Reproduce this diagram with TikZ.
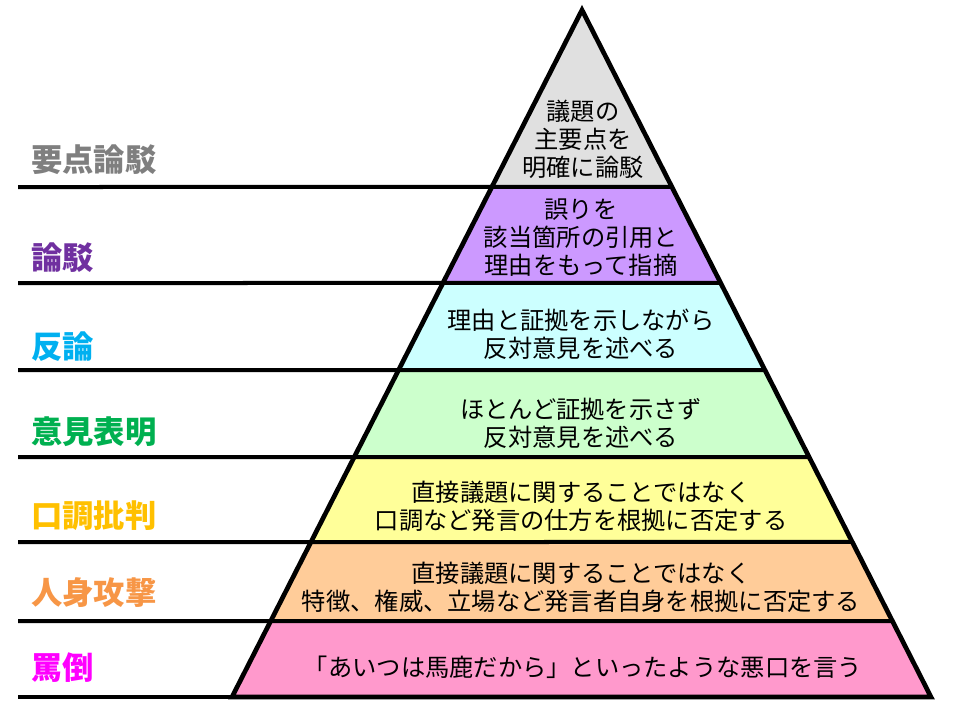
\documentclass[tikz,border=0pt]{standalone}
\usepackage{fontspec}
\newfontfamily\jp{Noto Sans CJK JP}
\usetikzlibrary{calc}
\definecolor{fgray}{HTML}{E0E0E0}
\definecolor{fpurple}{HTML}{CC99FF}
\definecolor{fcyan}{HTML}{CCFFFF}
\definecolor{fgreen}{HTML}{CCFFCC}
\definecolor{fyellow}{HTML}{FFFF99}
\definecolor{forange}{HTML}{FFCC99}
\definecolor{fpink}{HTML}{FF99CC}
\definecolor{lgray}{HTML}{7F7F7F}
\definecolor{lpurple}{HTML}{7030A0}
\definecolor{lcyan}{HTML}{00B0F0}
\definecolor{lgreen}{HTML}{00B050}
\definecolor{lyellow}{HTML}{FFC000}
\definecolor{lorange}{HTML}{F79646}
\definecolor{lpink}{HTML}{FF00FF}
\tikzset{
  lvlline/.style={line width=3pt},
  outline/.style={line width=3.5pt, line join=miter},
  ptext/.style={font=\jp\fontsize{18.2}{21}\selectfont, align=center, text=black, inner sep=0pt},
  label/.style={font=\jp\bfseries\fontsize{23.5}{26}\selectfont, anchor=west, inner sep=0pt}
}
\begin{document}
\begin{tikzpicture}[x=0.75pt,y=-0.75pt]
\useasboundingbox (0,0) rectangle (960,717);
\coordinate (A) at (582,10);
\coordinate (BL) at (232,697);
\coordinate (BR) at (931,697);
\foreach \n/\y in {1/187,2/283,3/370,4/457,5/542,6/621,7/697}{
  \coordinate (L\n) at ($(A)!{(\y-10)/687}!(BL)$);
  \coordinate (R\n) at ($(A)!{(\y-10)/687}!(BR)$);
  \coordinate (E\n) at (18,\y);
}
\fill[fgray] (A) -- (R1) -- (L1) -- cycle;
\fill[fpurple] (L1) -- (R1) -- (R2) -- (L2) -- cycle;
\fill[fcyan] (L2) -- (R2) -- (R3) -- (L3) -- cycle;
\fill[fgreen] (L3) -- (R3) -- (R4) -- (L4) -- cycle;
\fill[fyellow] (L4) -- (R4) -- (R5) -- (L5) -- cycle;
\fill[forange] (L5) -- (R5) -- (R6) -- (L6) -- cycle;
\fill[fpink] (L6) -- (R6) -- (R7) -- (L7) -- cycle;
\foreach \n in {1,...,7}{ \draw[lvlline] (E\n) -- (R\n); }
\draw[outline] (A) -- (BL) -- (BR) -- cycle;

\node[ptext] (t1) at (583,139) {議題の\\主要点を\\明確に論駁};
\node[ptext] (t2) at (581,238) {誤りを\\該当箇所の引用と\\理由をもって指摘};
\node[ptext] (t3) at (581,334) {理由と証拠を示しながら\\反対意見を述べる};
\node[ptext] (t4) at (581,423) {ほとんど証拠を示さず\\反対意見を述べる};
\node[ptext] (t5) at (581,506) {直接議題に関することではなく\\口調など発言の仕方を根拠に否定する};
\node[ptext] (t6) at (581,587) {直接議題に関することではなく\\特徴、権威、立場など発言者自身を根拠に否定する};
\node[ptext] (t7) at (583,667) {「あいつは馬鹿だから」といったような悪口を言う};

\node[label, text=lgray] (l1) at (31,160) {要点論駁};
\node[label, text=lpurple] (l2) at (31,258) {論駁};
\node[label, text=lcyan] (l3) at (31,347) {反論};
\node[label, text=lgreen] (l4) at (31,432) {意見表明};
\node[label, text=lyellow] (l5) at (31,516) {口調批判};
\node[label, text=lorange] (l6) at (31,593) {人身攻撃};
\node[label, text=lpink] (l7) at (31,668) {罵倒};
\end{tikzpicture}
\end{document}
